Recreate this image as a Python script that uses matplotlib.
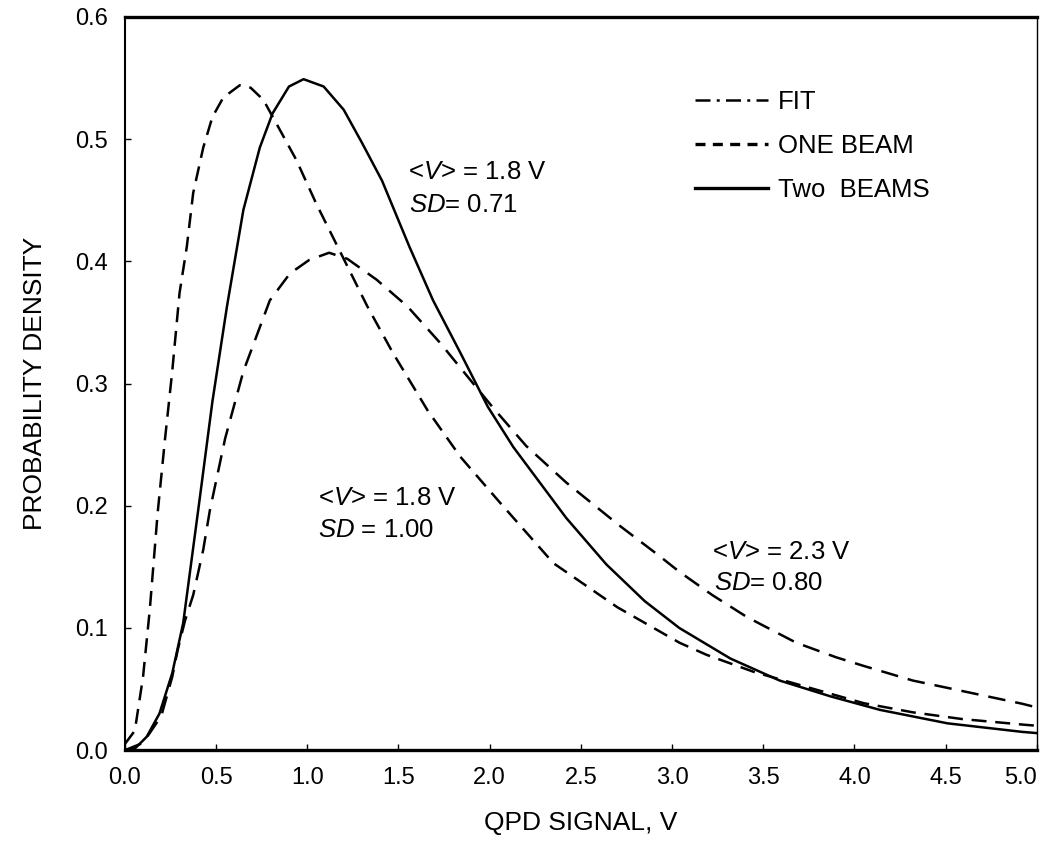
import numpy as np
import matplotlib
matplotlib.use("Agg")
import matplotlib.pyplot as plt
from matplotlib.lines import Line2D

plt.rcParams['font.family'] = ['Liberation Sans', 'DejaVu Sans']
plt.rcParams['mathtext.fontset'] = 'custom'
plt.rcParams['mathtext.rm'] = 'Liberation Sans'
plt.rcParams['mathtext.it'] = 'Liberation Sans:italic'

# two beams (solid)
two_x = [0.0, 0.06, 0.12, 0.19, 0.26, 0.32, 0.41, 0.48, 0.56, 0.65, 0.74, 0.81, 0.90, 0.98,
         1.09, 1.20, 1.30, 1.41, 1.56, 1.69, 1.84, 1.99, 2.13, 2.28, 2.42, 2.64, 2.85,
         3.04, 3.32, 3.59, 3.87, 4.14, 4.51, 4.92, 5.0]
two_y = [0.0, 0.002, 0.011, 0.030, 0.063, 0.104, 0.205, 0.285, 0.363, 0.442, 0.493, 0.521, 0.543, 0.549,
         0.543, 0.524, 0.497, 0.466, 0.412, 0.368, 0.325, 0.281, 0.248, 0.218, 0.190, 0.152, 0.122,
         0.100, 0.075, 0.057, 0.044, 0.033, 0.022, 0.015, 0.014]

# one beam (dashed)
one_x = [0.0, 0.055, 0.10, 0.137, 0.18, 0.22, 0.26, 0.30, 0.34, 0.375, 0.43, 0.48, 0.54, 0.63,
         0.69, 0.76, 0.83, 0.94, 1.05, 1.14, 1.33, 1.47, 1.66, 1.84, 2.06, 2.35, 2.70, 3.04,
         3.19, 3.45, 4.05, 4.32, 4.59, 4.92, 5.0]
one_y = [0.005, 0.016, 0.060, 0.115, 0.194, 0.254, 0.310, 0.374, 0.412, 0.456, 0.493, 0.518, 0.534, 0.544,
         0.542, 0.532, 0.513, 0.483, 0.447, 0.420, 0.363, 0.325, 0.278, 0.240, 0.202, 0.153, 0.117, 0.088,
         0.078, 0.064, 0.0385, 0.031, 0.0255, 0.021, 0.020]

# fit (broad curve)
fit_x = [0.0, 0.10, 0.20, 0.26, 0.29, 0.33, 0.375, 0.43, 0.466, 0.55, 0.65, 0.795, 0.905, 1.01,
         1.12, 1.22, 1.38, 1.55, 1.73, 1.91, 2.02, 2.20, 2.42, 2.71, 2.93, 3.04, 3.22, 3.41,
         3.68, 3.90, 4.05, 4.32, 4.51, 4.92, 5.0]
fit_y = [0.0, 0.006, 0.028, 0.060, 0.082, 0.106, 0.127, 0.164, 0.196, 0.255, 0.310, 0.368, 0.390, 0.401,
         0.407, 0.402, 0.385, 0.363, 0.333, 0.300, 0.280, 0.249, 0.219, 0.184, 0.159, 0.146, 0.127, 0.109,
         0.088, 0.076, 0.069, 0.057, 0.051, 0.038, 0.035]

notes = [(1.55, 0.473, r'<$V$> = 1.8 V'), (1.56, 0.446, r'$SD$= 0.71'),
         (1.06, 0.206, r'<$V$> = 1.8 V'), (1.06, 0.180, r'$SD$ = 1.00'),
         (3.22, 0.162, r'<$V$> = 2.3 V'), (3.23, 0.137, r'$SD$= 0.80')]

xtick_labels = ['0.0', '0.5', '1.0', '1.5', '2.0', '2.5', '3.0', '3.5', '4.0', '4.5', '5.0']
ytick_labels = ['0.0', '0.1', '0.2', '0.3', '0.4', '0.5', '0.6']

fig = plt.figure(figsize=(10.4, 8.42), dpi=100)
ax = fig.add_axes([0.120, 0.109, 0.877, 0.871])

lw = 1.8
ax.plot(fit_x, fit_y, color='black', lw=lw, linestyle=(0, (7, 4)))
ax.plot(one_x, one_y, color='black', lw=lw, linestyle=(0, (6, 3.5)))
ax.plot(two_x, two_y, color='black', lw=lw, linestyle='-')

for x, y, s in notes:
    ax.text(x, y, s, fontsize=18.5, va='center', ha='left')

handles = [Line2D([], [], color='black', lw=lw, linestyle=(0, (6, 2.5, 1.2, 2.5))),
           Line2D([], [], color='black', lw=2.4, linestyle=(0, (3, 2.2))),
           Line2D([], [], color='black', lw=2.4, linestyle='-')]
ax.legend(handles, ['FIT', 'ONE BEAM', 'Two  BEAMS'], loc='upper left',
          bbox_to_anchor=(0.625, 0.900), frameon=False, fontsize=18.5,
          handlelength=2.85, handletextpad=0.4, labelspacing=0.77,
          borderpad=0, borderaxespad=0)

ax.set_xlim(0, 5)
ax.set_ylim(0, 0.6)
ax.set_xticks(np.arange(0, 5.01, 0.5))
ax.set_xticklabels(xtick_labels)
ax.set_yticks(np.arange(0, 0.61, 0.1))
ax.set_yticklabels(ytick_labels)
ax.tick_params(direction='in', length=4, width=1, labelsize=17)
ax.tick_params(axis='x', pad=12)
ax.tick_params(axis='y', pad=12)
last = ax.get_xticklabels()[-1]
last.set_horizontalalignment('right')

ax.spines['bottom'].set_linewidth(2.4)
ax.spines['top'].set_linewidth(2.4)
ax.spines['left'].set_linewidth(1.5)
ax.spines['right'].set_linewidth(1.0)

ax.set_xlabel('QPD SIGNAL, V', fontsize=19, labelpad=16)
ax.set_ylabel('PROBABILITY DENSITY', fontsize=19, labelpad=20)

fig.savefig('out.png', dpi=100)
